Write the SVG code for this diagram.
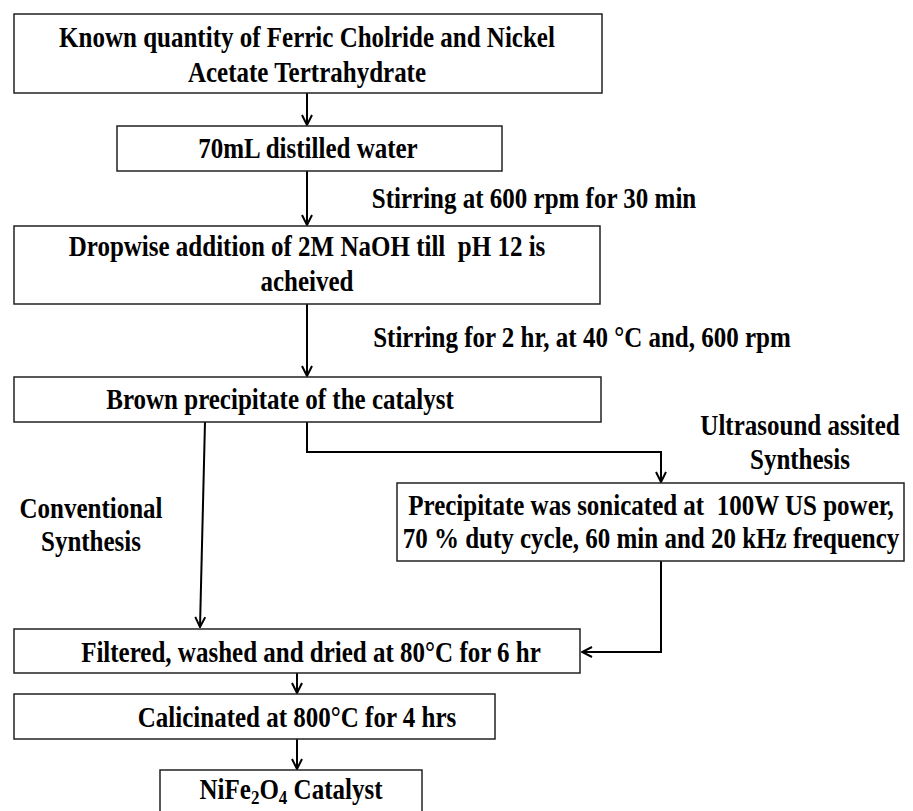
<svg xmlns="http://www.w3.org/2000/svg" width="913" height="811" viewBox="0 0 913 811">
<style>
.box{fill:#fff;stroke:#222;stroke-width:1.5}
.t{font-family:"Liberation Serif","Times New Roman",serif;font-weight:bold;font-size:25px;fill:#000;text-anchor:middle}
.c{fill:none;stroke:#000;stroke-width:2}
</style>
<defs>
<marker id="ah" viewBox="0 0 12 12" refX="11" refY="6" markerWidth="12" markerHeight="12" markerUnits="userSpaceOnUse" orient="auto">
<path d="M1,1 L11,6 L1,11" fill="none" stroke="#000" stroke-width="2"/>
</marker>
</defs>
<rect width="913" height="811" fill="#fff"/>
<g id="connectors">
<line class="c" x1="307" y1="93" x2="307" y2="125" marker-end="url(#ah)"/>
<line class="c" x1="307" y1="171" x2="307" y2="225" marker-end="url(#ah)"/>
<line class="c" x1="307" y1="304" x2="307" y2="376" marker-end="url(#ah)"/>
<polyline class="c" points="307,422 307,452 661,452 661,482" marker-end="url(#ah)"/>
<line class="c" x1="205" y1="422" x2="200" y2="627" marker-end="url(#ah)"/>
<polyline class="c" points="661,561 661,652 582,652" marker-end="url(#ah)"/>
<line class="c" x1="297" y1="673" x2="297" y2="693" marker-end="url(#ah)"/>
<line class="c" x1="297" y1="739" x2="297" y2="769" marker-end="url(#ah)"/>
</g>
<g id="n1">
<rect class="box" x="14" y="14" width="588" height="79"/>
<text class="t" transform="translate(307 47) scale(1 1.15)">Known quantity of Ferric Cholride and Nickel</text>
<text class="t" transform="translate(307 82) scale(1 1.15)">Acetate Tertrahydrate</text>
</g>
<g id="n2">
<rect class="box" x="117" y="126" width="385" height="45"/>
<text class="t" transform="translate(308 158) scale(1 1.15)">70mL distilled water</text>
</g>
<g id="l1">
<text class="t" transform="translate(534 208) scale(1 1.15)">Stirring at 600 rpm for 30 min</text>
</g>
<g id="n3">
<rect class="box" x="14" y="226" width="586" height="78"/>
<text class="t" transform="translate(307 256) scale(1 1.15)">Dropwise addition of 2M NaOH till&#160; pH 12 is</text>
<text class="t" transform="translate(307 291) scale(1 1.15)">acheived</text>
</g>
<g id="l2">
<text class="t" transform="translate(582 347) scale(1 1.15)">Stirring for 2 hr, at 40 °C and, 600 rpm</text>
</g>
<g id="n4">
<rect class="box" x="14" y="377" width="587" height="45"/>
<text class="t" transform="translate(280 409) scale(1 1.15)">Brown precipitate of the catalyst</text>
</g>
<g id="l3">
<text class="t" transform="translate(800 435) scale(1 1.15)">Ultrasound assited</text>
<text class="t" transform="translate(800 469) scale(1 1.15)">Synthesis</text>
</g>
<g id="n5">
<rect class="box" x="397" y="483" width="507" height="78"/>
<text class="t" transform="translate(651 515) scale(1 1.15)">Precipitate was sonicated at&#160; 100W US power,</text>
<text class="t" transform="translate(651 548) scale(1 1.15)">70 % duty cycle, 60 min and 20 kHz frequency</text>
</g>
<g id="l4">
<text class="t" transform="translate(91 518) scale(1 1.15)">Conventional</text>
<text class="t" transform="translate(91 551) scale(1 1.15)">Synthesis</text>
</g>
<g id="n6">
<rect class="box" x="14" y="629" width="566" height="44"/>
<text class="t" transform="translate(311 662) scale(1 1.15)">Filtered, washed and dried at 80°C for 6 hr</text>
</g>
<g id="n7">
<rect class="box" x="14" y="694" width="481" height="45"/>
<text class="t" transform="translate(297 727) scale(1 1.15)">Calicinated at 800°C for 4 hrs</text>
</g>
<g id="n8">
<rect class="box" x="160" y="770" width="262" height="50"/>
<text class="t" transform="translate(291 799) scale(1 1.15)">NiFe<tspan font-size="17" dy="4">2</tspan><tspan dy="-4">O</tspan><tspan font-size="17" dy="4">4</tspan><tspan dy="-4"> Catalyst</tspan></text>
</g>
</svg>
